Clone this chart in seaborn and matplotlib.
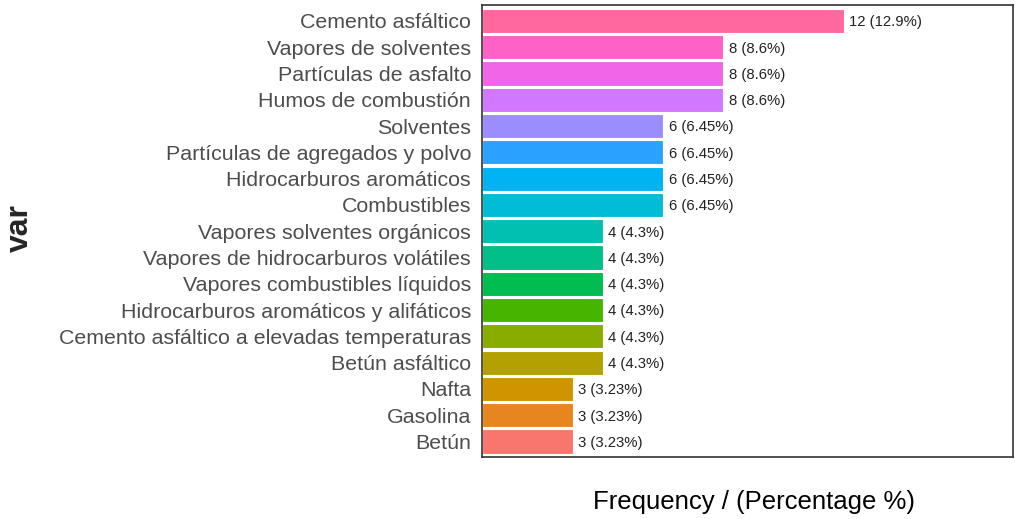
import numpy as np
import pandas as pd
import matplotlib
matplotlib.use("Agg")
import matplotlib.pyplot as plt
import seaborn as sns

# ---------------- DATA ----------------

categories = [
    "Cemento asfáltico",
    "Vapores de solventes",
    "Partículas de asfalto",
    "Humos de combustión",
    "Solventes",
    "Partículas de agregados y polvo",
    "Hidrocarburos aromáticos",
    "Combustibles",
    "Vapores solventes orgánicos",
    "Vapores de hidrocarburos volátiles",
    "Vapores combustibles líquidos",
    "Hidrocarburos aromáticos y alifáticos",
    "Cemento asfáltico a elevadas temperaturas",
    "Betún asfáltico",
    "Nafta",
    "Gasolina",
    "Betún",
]
freq = [12, 8, 8, 8, 6, 6, 6, 6, 4, 4, 4, 4, 4, 4, 3, 3, 3]
pct_labels = ["12.9%", "8.6%", "8.6%", "8.6%", "6.45%", "6.45%", "6.45%", "6.45%",
              "4.3%", "4.3%", "4.3%", "4.3%", "4.3%", "4.3%", "3.23%", "3.23%", "3.23%"]

df = pd.DataFrame({"var": categories, "freq": freq, "pct": pct_labels})


# ggplot-style hue palette (HCL, l=65, c=100)
def hue_pal(n, l=65.0, c=100.0):
    hues = np.linspace(15, 375, n + 1)[:-1]
    out = []
    for h in hues:
        u = c * np.cos(np.radians(h))
        v = c * np.sin(np.radians(h))
        Y = ((l + 16) / 116) ** 3
        un, vn = 0.1978398, 0.4683363
        up = u / (13 * l) + un
        vp = v / (13 * l) + vn
        X = Y * 9 * up / (4 * vp)
        Z = Y * (12 - 3 * up - 20 * vp) / (4 * vp)
        M = np.array([[3.2404542, -1.5371385, -0.4985314],
                      [-0.9692660, 1.8760108, 0.0415560],
                      [0.0556434, -0.2040259, 1.0572252]])
        rgb = M @ np.array([X, Y, Z])
        rgb = np.where(rgb <= 0.0031308, 12.92 * rgb, 1.055 * np.clip(rgb, 0, None) ** (1 / 2.4) - 0.055)
        out.append(tuple(np.clip(rgb, 0, 1)))
    return out


# bottom bar gets first hue
colors = hue_pal(len(categories))[::-1]

# ---------------- PLOT ----------------

sns.set_style("white")
plt.rcParams["font.family"] = ["Liberation Sans", "DejaVu Sans"]

fig = plt.figure(figsize=(10.15, 5.19), dpi=100)
ax = fig.add_axes([0.475, 0.119, 0.523, 0.871])

sns.barplot(data=df, y="var", x="freq", hue="var", palette=colors, legend=False,
            orient="h", width=0.92, saturation=1, edgecolor="white", linewidth=0.8, ax=ax)

for i, (f, p) in enumerate(zip(freq, pct_labels)):
    ax.text(f + 0.18, i + 0.05, f"{f} ({p})", va="center", ha="left", fontsize=10.7, color="#222222")

ax.set_xlim(0, 17.6)
ax.set_ylim(len(categories) - 0.4, -0.6)
ax.set_xticks([])
ax.tick_params(axis="y", length=0, labelsize=15.4, labelcolor="#4D4D4D", pad=8)
for s in ax.spines.values():
    s.set_visible(True)
    s.set_color("#333333")
    s.set_linewidth(1.2)

ax.set_xlabel("Frequency / (Percentage %)", fontsize=18.5, color="black")
ax.xaxis.set_label_coords(0.512, -0.073)
ax.set_ylabel("")
fig.text(0.02, 0.561, "var", rotation=90, fontsize=23, fontweight="bold", va="center", ha="center")

plt.savefig("out.png", dpi=100)
